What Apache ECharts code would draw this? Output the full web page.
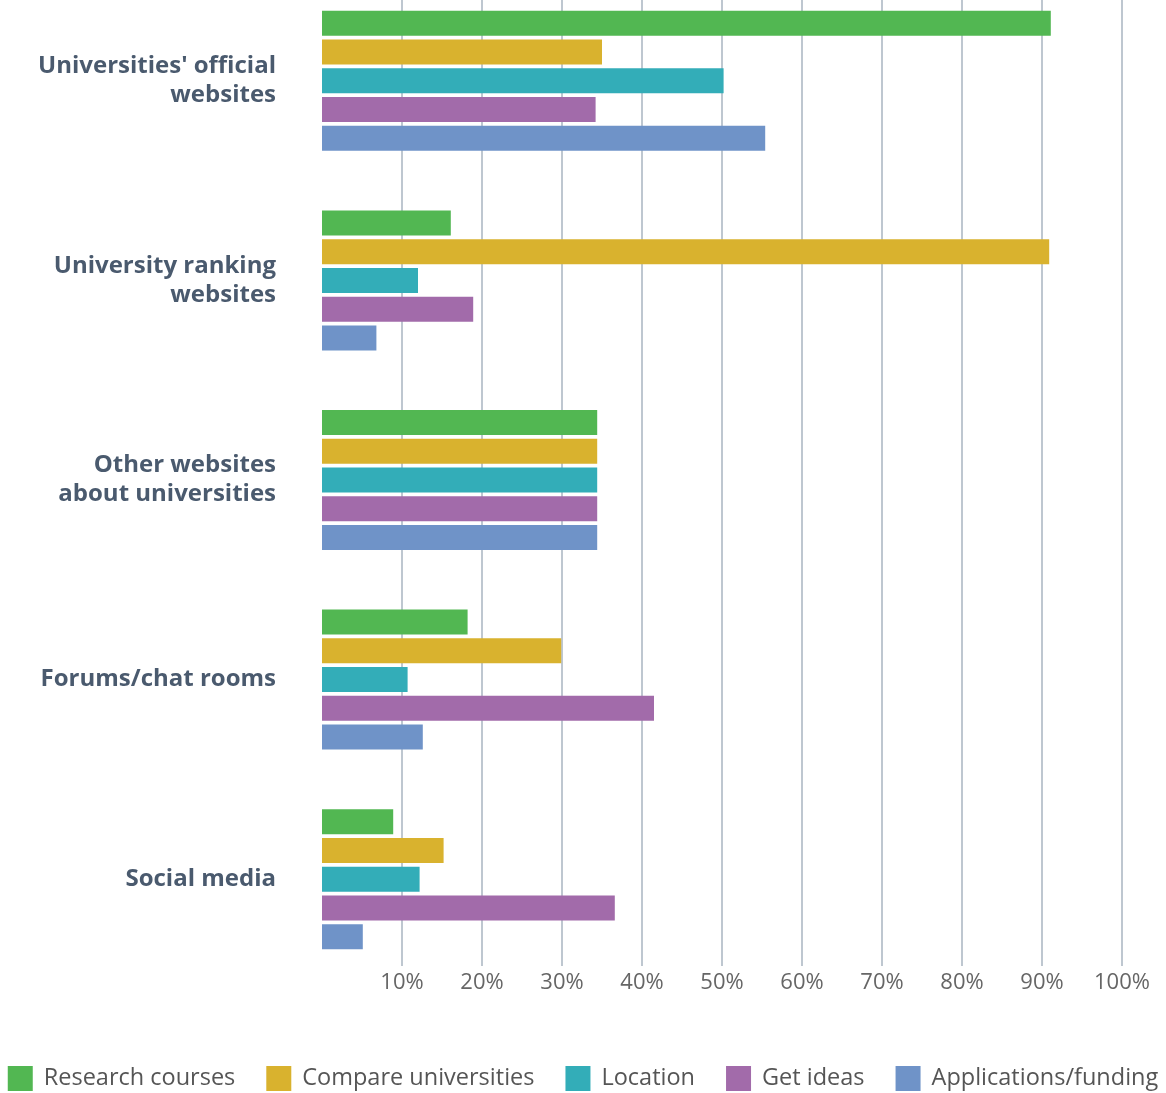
<!DOCTYPE html>
<html>
<head>
<meta charset="utf-8">
<script src="https://cdn.jsdelivr.net/npm/echarts@6/dist/echarts.min.js"></script>
<style>
html,body{margin:0;padding:0;background:#fff;overflow:hidden;}
#chart{width:1166px;height:1112px;position:absolute;left:0;top:-19px;}
</style>
</head>
<body>
<div id="chart"></div>
<script>
const categories = ["Universities' official\nwebsites", "University ranking\nwebsites", "Other websites\nabout universities", "Forums/chat rooms", "Social media"];
const seriesNames = ["Research courses", "Compare universities", "Location", "Get ideas", "Applications/funding"];
const researchCourses = [91.1, 16.1, 34.4, 18.2, 8.9];
const compareUniversities = [35.0, 90.9, 34.4, 29.9, 15.2];
const locationValues = [50.2, 12.0, 34.4, 10.7, 12.2];
const getIdeas = [34.2, 18.9, 34.4, 41.5, 36.6];
const applicationsFunding = [55.4, 6.8, 34.4, 12.6, 5.1];
const colors = ["#52b752", "#d9b22e", "#33adb8", "#a26baa", "#6f93c8"];

const seriesData = [researchCourses, compareUniversities, locationValues, getIdeas, applicationsFunding];

// the chart container is shifted up 19px so the category bands can start above the page top
const OFF = 19;

const chart = echarts.init(document.getElementById('chart'));
chart.setOption({
  backgroundColor: '#fff',
  animation: false,
  color: colors,
  legend: {
    data: seriesNames,
    left: 'center',
    top: 1066 + OFF,
    padding: 0,
    itemWidth: 25,
    itemHeight: 25,
    itemGap: 31,
    icon: 'rect',
    textStyle: { fontFamily: 'Open Sans', fontSize: 23.5, color: '#555', padding: [0, 0, 0, 6] }
  },
  grid: [
    { left: 322, width: 800, top: 0, height: 998 },
    { left: 322, width: 800, top: OFF, height: 966 }
  ],
  xAxis: [
    { gridIndex: 0, type: 'value', min: 0, max: 100, interval: 10, show: false },
    {
      gridIndex: 1, type: 'value', min: 0, max: 100, interval: 10,
      axisLine: { show: false }, axisTick: { show: false },
      splitLine: { show: true, showMinLine: false, lineStyle: { color: '#a9b5c0', width: 1.5 } },
      axisLabel: { showMinLabel: false, formatter: '{value}%', margin: 6, fontFamily: 'Open Sans', fontSize: 22, color: '#666' }
    }
  ],
  yAxis: [
    {
      gridIndex: 0, type: 'category', data: categories, inverse: true,
      axisLine: { show: false }, axisTick: { show: false }, splitLine: { show: false },
      axisLabel: { margin: 46, fontFamily: 'Open Sans', fontWeight: 'bold', fontSize: 24, lineHeight: 29, color: '#4a5a6e' }
    },
    { gridIndex: 1, type: 'value', min: 0, max: 1, show: false }
  ],
  series: seriesNames.map((name, i) => ({
    name: name,
    type: 'bar',
    xAxisIndex: 0,
    yAxisIndex: 0,
    data: seriesData[i],
    barWidth: 25,
    barGap: '15%',
    itemStyle: { color: colors[i] },
    z: 3
  }))
});
</script>
</body>
</html>
